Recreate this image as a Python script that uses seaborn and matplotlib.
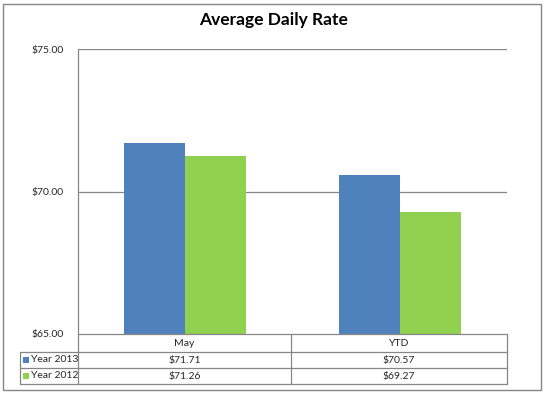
import matplotlib
matplotlib.use("Agg")
import matplotlib.pyplot as plt
import seaborn as sns
import pandas as pd
from matplotlib.patches import Rectangle
from matplotlib.lines import Line2D

categories = ["May", "YTD"]
series_names = ["Year 2013", "Year 2012"]
year_2013 = [71.71, 70.57]
year_2012 = [71.26, 69.27]
yticks = [65, 70, 75]
colors = ["#4F81BD", "#92D050"]

df = pd.DataFrame({
    "cat": categories * 2,
    "series": [series_names[0]] * 2 + [series_names[1]] * 2,
    "val": year_2013 + year_2012,
})

sns.set_style("white")
plt.rcParams['font.family'] = ['Lato', 'DejaVu Sans']

W, H = 548, 395
fig = plt.figure(figsize=(W / 100, H / 100), dpi=100)

def fx(px):
    return px / W

def fy(py):
    return 1 - py / H

L, R, T, B = 78, 507, 49, 334
ax = fig.add_axes([fx(L), fy(B), fx(R) - fx(L), fy(T) - fy(B)])
sns.barplot(data=df, x="cat", y="val", hue="series", palette=colors,
            width=0.57, ax=ax, legend=False, saturation=1, edgecolor="none")
ax.set_ylim(65, 75)
ax.set_xlim(-0.5, 1.5)
ax.set_yticks(yticks)
ax.set_yticklabels([f"${v:.2f}" for v in yticks], fontsize=7.5)
ax.set_xticks([])
ax.set_xlabel("")
ax.set_ylabel("")
for y in yticks[1:]:
    ax.axhline(y, color="#868686", lw=0.9, zorder=0)
for s in ["top", "right", "bottom"]:
    ax.spines[s].set_visible(False)
ax.spines["left"].set_color("#868686")
ax.spines["left"].set_linewidth(0.9)
ax.tick_params(axis="y", length=0, pad=10)
for b in ax.patches:
    b.set_zorder(2)

# outer border
fig.add_artist(Rectangle((fx(3), fy(390)), fx(541) - fx(3), fy(4) - fy(390),
                         transform=fig.transFigure, fill=False,
                         edgecolor="#868686", lw=1.0))

fig.text(0.5, fy(20), "Average Daily Rate", ha="center", va="center",
         fontsize=12.5, fontweight="bold", color="black")

# data table
gc = "#868686"
col_x = [L, 291, R]
rows_y = [334, 352, 368, 384]
leg_left = 20

def hline(x0, x1, y):
    fig.add_artist(Line2D([fx(x0), fx(x1)], [fy(y), fy(y)], transform=fig.transFigure,
                          color=gc, lw=0.9))

def vline(x, y0, y1):
    fig.add_artist(Line2D([fx(x), fx(x)], [fy(y0), fy(y1)], transform=fig.transFigure,
                          color=gc, lw=0.9))

hline(L, R, rows_y[0])
for y in rows_y[1:]:
    hline(leg_left, R, y)
vline(leg_left, rows_y[1], rows_y[3])
for x in col_x:
    vline(x, rows_y[0], rows_y[3])

for i, c in enumerate(categories):
    cx = (col_x[i] + col_x[i + 1]) / 2
    fig.text(fx(cx), fy((rows_y[0] + rows_y[1]) / 2), c, ha="center", va="center",
             fontsize=7.5)

values = [year_2013, year_2012]
for r, name in enumerate(series_names):
    ymid = (rows_y[r + 1] + rows_y[r + 2]) / 2
    fig.add_artist(Rectangle((fx(23), fy(ymid + 3)), fx(6), fy(0) - fy(6),
                             transform=fig.transFigure, color=colors[r], lw=0))
    fig.text(fx(31), fy(ymid), name, ha="left", va="center", fontsize=7.5)
    for i in range(len(categories)):
        cx = (col_x[i] + col_x[i + 1]) / 2
        fig.text(fx(cx), fy(ymid), f"${values[r][i]:.2f}", ha="center", va="center",
                 fontsize=7.5)

fig.savefig("out.png", dpi=100, facecolor="white")
